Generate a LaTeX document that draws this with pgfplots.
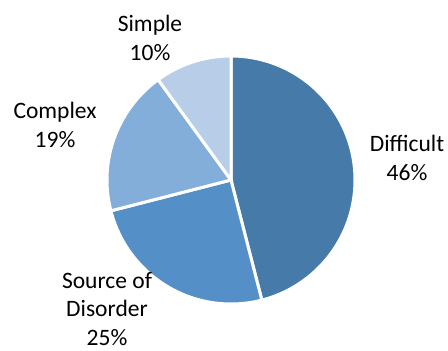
\documentclass[border=0pt]{standalone}
\usepackage{pgfplots}
\pgfplotsset{compat=1.18}
\usepackage{fontspec}
\setmainfont{Carlito}

\definecolor{cDifficult}{RGB}{70,122,168}
\definecolor{cSource}{RGB}{85,143,199}
\definecolor{cComplex}{RGB}{132,174,218}
\definecolor{cSimple}{RGB}{184,205,232}

% shares in percent, clockwise from 12 o'clock
\def\pDifficult{46}
\def\pSource{25}
\def\pComplex{19}
\def\pSimple{10}

\begin{document}
\begin{tikzpicture}
\pgfmathsetmacro{\aA}{90}
\pgfmathsetmacro{\aB}{\aA-3.6*\pDifficult}
\pgfmathsetmacro{\aC}{\aB-3.6*\pSource}
\pgfmathsetmacro{\aD}{\aC-3.6*\pComplex}
\pgfmathsetmacro{\aE}{\aD-3.6*\pSimple}
\begin{axis}[
  width=448bp, height=351bp, scale only axis,
  xmin=0, xmax=448, ymin=0, ymax=351,
  hide axis, clip=false,
  every axis plot/.append style={draw=white, line width=3bp, samples=120},
  nodes={font=\fontsize{23.6}{29}\selectfont, align=center, text=black},
]
\addplot[draw=none, line width=0pt] coordinates {(0,0) (448,351)};

\addplot[fill=cDifficult, domain=\aB:\aA] ({231+124*cos(x)},{171+124*sin(x)}) -- (231,171) -- cycle;
\addplot[fill=cSource,    domain=\aC:\aB] ({231+124*cos(x)},{171+124*sin(x)}) -- (231,171) -- cycle;
\addplot[fill=cComplex,   domain=\aD:\aC] ({231+124*cos(x)},{171+124*sin(x)}) -- (231,171) -- cycle;
\addplot[fill=cSimple,    domain=\aE:\aD] ({231+124*cos(x)},{171+124*sin(x)}) -- (231,171) -- cycle;

\node at (407,193) {Difficult\\\pDifficult\%};
\node at (107,42) {Source of\\Disorder\\\pSource\%};
\node at (55,226) {Complex\\\pComplex\%};
\node at (150,313.5) {Simple\\\pSimple\%};
\end{axis}
\end{tikzpicture}
\end{document}
